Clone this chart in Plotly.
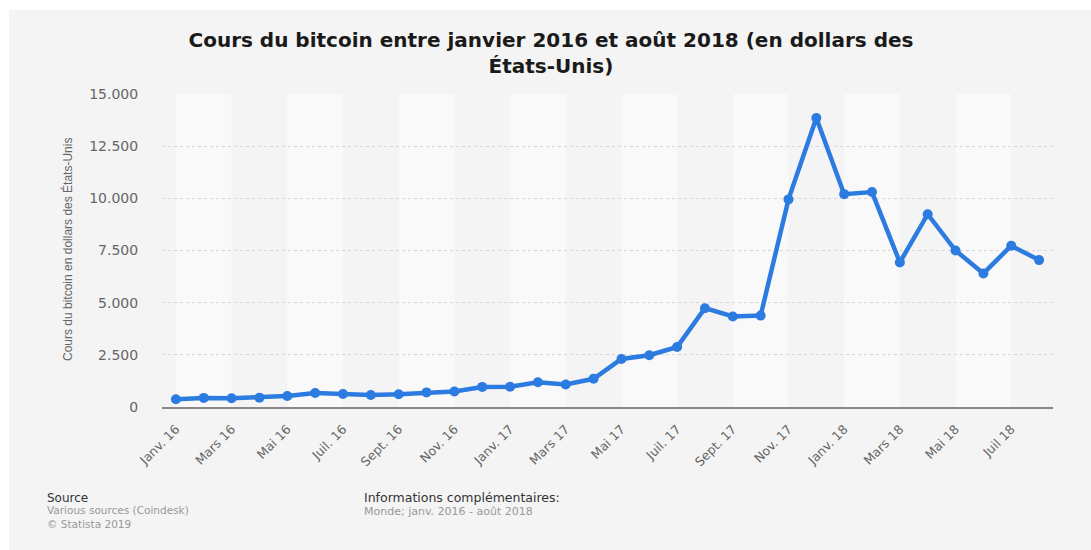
import plotly.graph_objects as go

months = ["janv. 16", "févr. 16", "mars 16", "avr. 16", "mai 16", "juin 16", "juil. 16", "août 16",
          "sept. 16", "oct. 16", "nov. 16", "déc. 16", "janv. 17", "févr. 17", "mars 17", "avr. 17",
          "mai 17", "juin 17", "juil. 17", "août 17", "sept. 17", "oct. 17", "nov. 17", "déc. 17",
          "janv. 18", "févr. 18", "mars 18", "avr. 18", "mai 18", "juin 18", "juil. 18", "août 18"]
prices = [368, 437, 416, 448, 531, 673, 624, 575, 608, 700, 742, 963,
          970, 1190, 1080, 1350, 2300, 2480, 2875, 4735, 4340, 4380, 9950, 13850,
          10200, 10300, 6930, 9240, 7500, 6400, 7730, 7040]
tick_labels = ["Janv. 16", "Mars 16", "Mai 16", "Juil. 16", "Sept. 16", "Nov. 16",
               "Janv. 17", "Mars 17", "Mai 17", "Juil. 17", "Sept. 17", "Nov. 17",
               "Janv. 18", "Mars 18", "Mai 18", "Juil 18"]
y_ticks = [0, 2500, 5000, 7500, 10000, 12500, 15000]
y_tick_text = ["0", "2.500", "5.000", "7.500", "10.000", "12.500", "15.000"]

W, H = 1091, 550
ML, MR, MT, MB = 162, 38, 94, 143
PW, PH = W - ML - MR, H - MT - MB

def px_x(p):
    return (p - ML) / PW

def px_y(p):
    return (H - MB - p) / PH

xs = list(range(len(prices)))

fig = go.Figure()
fig.add_trace(go.Scatter(
    x=xs, y=prices, mode="lines+markers",
    line=dict(color="#2b7be0", width=4.5),
    marker=dict(color="#2b7be0", size=10),
    customdata=months, hovertemplate="%{customdata}: %{y}<extra></extra>",
    showlegend=False,
))

shapes = []
# outer grey panel
shapes.append(dict(type="rect", xref="paper", yref="paper",
                   x0=px_x(9), x1=px_x(W + 5), y0=px_y(H + 5), y1=px_y(10),
                   fillcolor="#f4f4f4", line=dict(width=0), layer="below"))
# alternating light bands
for i in range(0, len(prices) - 1, 4):
    shapes.append(dict(type="rect", xref="x", yref="paper",
                       x0=i, x1=i + 2, y0=0, y1=1,
                       fillcolor="#f9f9f9", line=dict(width=0), layer="below"))
fig.update_layout(shapes=shapes)

annotations = [
    dict(text="Cours du bitcoin en dollars des États-Unis", textangle=-90,
         x=px_x(67), y=px_y(250), xref="paper", yref="paper",
         xanchor="center", yanchor="middle", showarrow=False,
         font=dict(family="Liberation Sans Narrow, Liberation Sans, sans-serif", size=12, color="#666666")),
    dict(text="Source", x=px_x(45), y=px_y(498), xref="paper", yref="paper",
         xanchor="left", yanchor="middle", showarrow=False,
         font=dict(family="DejaVu Sans", size=12, color="#333333")),
    dict(text="Various sources (Coindesk)<br>© Statista 2019", x=px_x(45), y=px_y(517),
         xref="paper", yref="paper", align="left",
         xanchor="left", yanchor="middle", showarrow=False,
         font=dict(family="DejaVu Sans", size=10.5, color="#999999")),
    dict(text="Informations complémentaires:", x=px_x(362), y=px_y(498), xref="paper", yref="paper",
         xanchor="left", yanchor="middle", showarrow=False,
         font=dict(family="DejaVu Sans", size=12.5, color="#333333")),
    dict(text="Monde; janv. 2016 - août 2018", x=px_x(362), y=px_y(511.5), xref="paper", yref="paper",
         xanchor="left", yanchor="middle", showarrow=False,
         font=dict(family="DejaVu Sans", size=11, color="#999999")),
]

fig.update_layout(
    width=W, height=H,
    margin=dict(l=ML, r=MR, t=MT, b=MB),
    paper_bgcolor="#ffffff",
    plot_bgcolor="#f3f3f3",
    title=dict(text="Cours du bitcoin entre janvier 2016 et août 2018 (en dollars des<br>États-Unis)",
               x=0.505, xanchor="center", y=1 - 47 / H, yanchor="middle",
               font=dict(family="DejaVu Sans", size=20, color="#1a1a1a", weight="bold")),
    annotations=annotations,
    xaxis=dict(range=[-0.5, len(prices) - 0.5], tickmode="array",
               tickvals=xs[::2], ticktext=tick_labels, tickangle=-45,
               showgrid=False, zeroline=False,
               showline=True, linecolor="#888888", linewidth=2,
               ticks="outside", ticklen=0, ticklabelstandoff=8,
               tickfont=dict(family="DejaVu Sans", size=12.5, color="#666666")),
    yaxis=dict(range=[0, 15000], tickmode="array", tickvals=y_ticks, ticktext=y_tick_text,
               showgrid=True, gridcolor="#d6d6d6", griddash="dot", gridwidth=1,
               zeroline=False, showline=False,
               ticks="outside", ticklen=0, ticklabelstandoff=20,
               tickfont=dict(family="DejaVu Sans", size=14, color="#666666")),
    hovermode="closest",
)

fig.write_html("out.html")
